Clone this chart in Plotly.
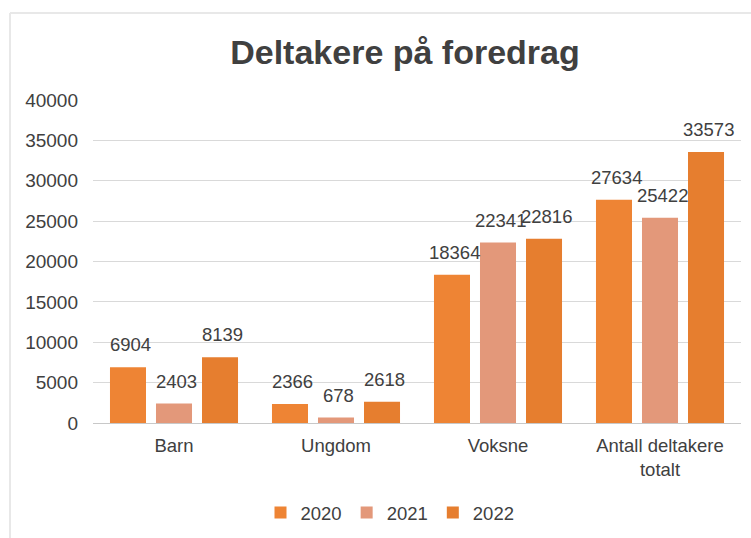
import plotly.graph_objects as go

categories = ["Barn", "Ungdom", "Voksne", "Antall deltakere<br>totalt"]
years = ["2020", "2021", "2022"]
values_2020 = [6904, 2366, 18364, 27634]
values_2021 = [2403, 678, 22341, 25422]
values_2022 = [8139, 2618, 22816, 33573]
y_ticks = [0, 5000, 10000, 15000, 20000, 25000, 30000, 35000, 40000]

series = [values_2020, values_2021, values_2022]
colors = ["#EE8434", "#E3987A", "#E67E2F"]

W, H = 751, 538
ML, MR, MT, MB = 93, 10, 100, 115

fig = go.Figure()
for name, vals, col in zip(years, series, colors):
    fig.add_trace(go.Bar(name=name, x=categories, y=vals, marker=dict(color=col, line=dict(width=0))))

# data labels above bars
slot = 46
for i, vals in enumerate(series):
    for cat, v in zip(categories, vals):
        fig.add_annotation(x=cat, y=v, xref="x", yref="y", text=str(v), showarrow=False,
                           xanchor="center", yanchor="bottom", xshift=(i - 1) * slot + 2, yshift=10,
                           font=dict(size=18.5, color="#404040", family="Liberation Sans, Arial"))

# chart frame
fig.add_shape(type="line", xref="paper", yref="paper",
              x0=(10 - ML) / (W - ML - MR), x1=(W - ML) / (W - ML - MR),
              y0=1 + (MT - 13) / (H - MT - MB), y1=1 + (MT - 13) / (H - MT - MB),
              line=dict(color="#e8e8e8", width=2))
fig.add_shape(type="line", xref="paper", yref="paper",
              x0=(10 - ML) / (W - ML - MR), x1=(10 - ML) / (W - ML - MR),
              y0=1 + (MT - 13) / (H - MT - MB), y1=-(H - MT) / (H - MT - MB),
              line=dict(color="#e8e8e8", width=2))

fig.update_layout(
    width=W, height=H,
    margin=dict(l=ML, r=MR, t=MT, b=MB, autoexpand=False),
    paper_bgcolor="white", plot_bgcolor="white",
    barmode="group", bargap=0.148, bargroupgap=0.217,
    font=dict(family="Liberation Sans, Arial", size=18, color="#404040"),
    title=dict(text="<b>Deltakere på foredrag</b>", x=405 / W, xref="container", xanchor="center",
               y=1 - 52 / H, yref="container", yanchor="middle",
               font=dict(size=34, color="#404040", family="Liberation Sans, Arial")),
    showlegend=True,
    legend=dict(orientation="h", x=390 / W, xref="container", xanchor="center",
                y=1 - 513 / H, yref="container", yanchor="middle",
                font=dict(size=18.5, color="#404040"), itemwidth=30, traceorder="normal"),
    xaxis=dict(showgrid=False, showline=True, linecolor="#c8c8c8", linewidth=1, ticks="",
               automargin=False, tickfont=dict(size=18.5, color="#404040"), ticklabelstandoff=6),
    yaxis=dict(range=[0, 40000], tickvals=y_ticks, ticktext=[str(t) for t in y_ticks],
               showgrid=True, gridcolor="#d9d9d9", gridwidth=1, zeroline=False, automargin=False,
               tickfont=dict(size=19, color="#404040"), ticks="", ticklabelstandoff=14),
)

fig.write_html("out.html", config={"displayModeBar": False},
               post_script="document.body.style.margin='0';")
